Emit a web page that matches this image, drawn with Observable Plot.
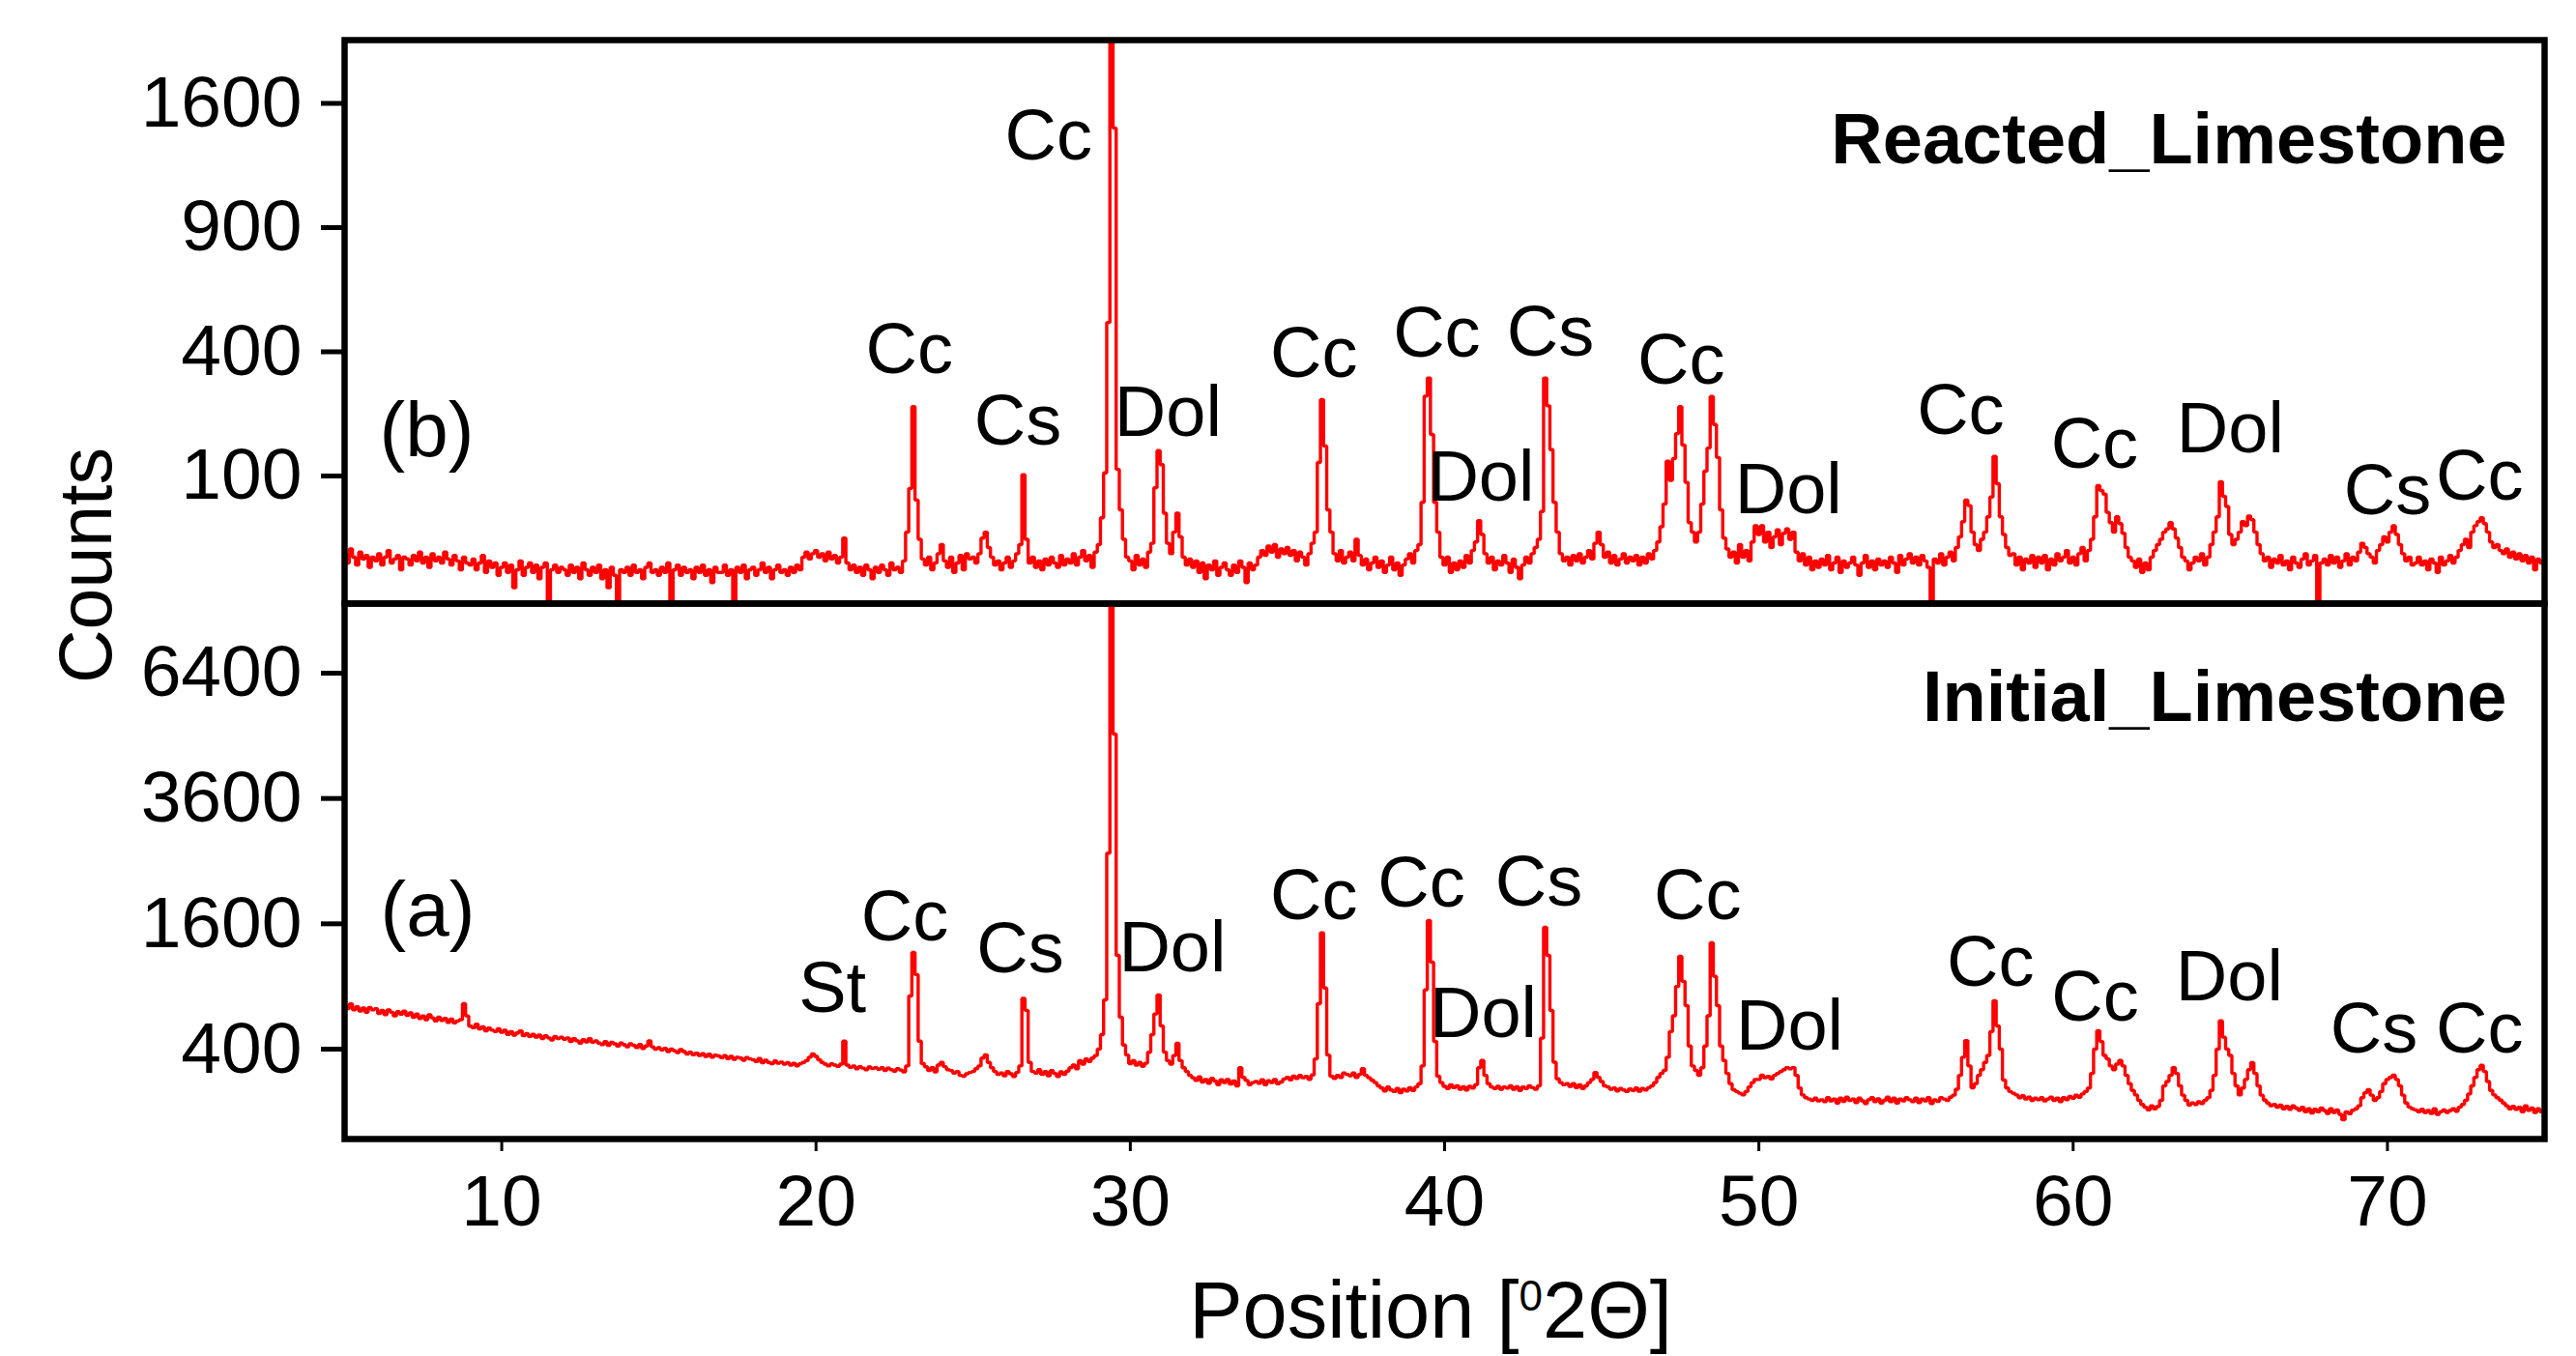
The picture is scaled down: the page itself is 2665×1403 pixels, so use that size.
<!DOCTYPE html>
<html>
<head>
<meta charset="utf-8">
<script src="https://cdn.jsdelivr.net/npm/d3@7"></script>
<script src="https://cdn.jsdelivr.net/npm/@observablehq/plot@0.6"></script>
<style>
  html, body { margin: 0; padding: 0; background: #ffffff; }
  #chart { position: relative; width: 2665px; height: 1403px; overflow: hidden; background: #ffffff; }
  #chart .panel { position: absolute; left: 0; }
  #chart svg { overflow: visible; }
  #chart g[aria-label="y-axis tick"] { stroke-width: 5px; }
  #chart g[aria-label="x-axis tick"] { stroke-width: 3px; }
  #chart g[aria-label="y-axis"] line { stroke-width: 5px; }
  #chart g[aria-label="x-axis"] line { stroke-width: 3px; }
</style>
</head>
<body>
<div id="chart">
  <div id="upper" class="panel" style="top:0px"></div>
  <div id="lower" class="panel" style="top:620px"></div>
  <svg id="titles" width="2665" height="1403" style="position:absolute;left:0;top:0;pointer-events:none" font-family="'Liberation Sans', Arial, sans-serif" fill="#000">
    <text transform="translate(115,585) rotate(-90)" text-anchor="middle" font-size="77">Counts</text>
    <text x="1480" y="1384" text-anchor="middle" font-size="83">Position [<tspan font-size="44" dy="-28">0</tspan><tspan dy="28">2Θ]</tspan></text>
  </svg>
</div>
<script>
// ---- measurement grid (degrees 2θ) ----
const twoThetaStart = 5;
const twoThetaStep = 0.1;

// ---- Reacted limestone counts, one row per degree (5.0 ... 5.9, 6.0 ... ) ----
const reactedCounts = [
  [14,9,17,12,8,15,11,13,7,12],
  [10,14,8,12,16,9,11,13,6,12],
  [11,8,13,10,15,9,12,7,14,10],
  [12,9,15,11,8,13,10,6,12,9],
  [8,11,6,9,13,5,10,7,9,4],
  [7,9,5,8,1,6,10,4,7,9],
  [5,8,3,7,9,0,6,8,5,7],
  [6,4,8,5,7,3,9,6,4,7],
  [5,8,3,6,1,7,4,0,6,5],
  [7,4,8,5,6,3,7,9,5,6],
  [4,7,5,9,0,6,8,4,7,5],
  [6,3,7,5,8,4,6,2,7,5],
  [5,8,4,6,0,7,5,8,3,6],
  [7,4,6,9,5,7,3,6,8,5],
  [6,4,7,5,8,6,12,15,11,14],
  [16,12,14,10,15,11,13,9,12,25],
  [9,6,8,5,7,4,8,6,3,7],
  [5,8,6,4,9,6,7,5,10,30],
  [81,243,65,24,11,8,12,6,9,14],
  [20,10,7,12,5,9,13,6,14,11],
  [12,9,14,25,30,18,12,8,10,6],
  [9,12,7,10,14,20,102,24,9,12],
  [7,10,6,11,8,12,9,7,13,8],
  [11,9,14,8,12,16,10,13,7,15],
  [20,44,105,500,3000,1445,111,53,24,12],
  [10,6,13,8,11,7,15,21,82,145],
  [119,49,21,14,30,49,26,12,8,11],
  [7,10,5,9,3,8,6,10,4,7],
  [9,6,4,8,5,10,7,2,9,6],
  [8,12,16,13,19,15,20,12,17,14],
  [18,13,16,10,15,12,8,14,21,30],
  [123,261,154,53,30,14,10,16,9,12],
  [15,10,24,13,8,11,6,9,12,7],
  [10,5,8,12,6,9,4,8,11,14],
  [9,16,20,62,270,320,178,62,30,12],
  [8,12,5,9,6,10,7,13,9,16],
  [22,41,28,14,9,12,6,10,8,13],
  [9,5,11,7,3,8,12,9,14,18],
  [24,51,320,245,147,62,30,14,10,12],
  [8,13,10,14,9,12,16,11,21,30],
  [20,12,15,9,13,8,11,14,9,12],
  [10,13,8,12,9,14,11,16,22,35],
  [60,125,93,130,180,243,156,90,39,30],
  [22,30,60,108,150,269,200,132,53,25],
  [17,12,15,9,20,12,16,10,22,36],
  [28,36,22,30,18,26,32,20,29,33],
  [24,30,15,10,14,8,12,6,10,7],
  [11,8,13,6,9,12,5,10,7,9],
  [12,8,4,9,13,7,10,6,11,8],
  [10,7,12,9,5,13,8,11,14,9],
  [12,8,13,10,7,0,11,9,14,8],
  [12,15,10,18,26,40,65,58,30,20],
  [16,24,30,45,69,134,88,45,28,18],
  [13,14,8,12,6,11,9,13,7,12],
  [9,13,6,11,8,14,10,12,16,9],
  [12,8,14,18,10,16,24,45,85,78],
  [73,50,39,30,45,38,29,18,12,10],
  [7,11,5,9,6,12,16,20,24,30],
  [33,39,33,25,18,12,10,6,9,12],
  [10,14,8,12,20,30,45,91,70,57],
  [28,20,24,30,40,36,46,42,30,20],
  [14,10,12,7,11,9,13,8,10,6],
  [12,9,7,11,14,8,10,13,0,9],
  [11,8,13,9,12,7,10,14,8,12],
  [10,15,21,18,14,12,9,16,20,26],
  [22,30,36,28,20,14,10,12,8,9],
  [12,8,10,6,11,9,5,12,8,10],
  [13,9,12,16,20,24,18,30,36,40],
  [44,38,30,22,18,20,16,14,17,12],
  [15,11,14,10,13,9,12,6,11,9],
  [10]
];

// ---- Initial limestone counts, one row per degree ----
const initialCounts = [
  [725,700,740,690,715,680,705,670,710,690],
  [700,660,685,650,690,670,640,675,655,680],
  [645,665,630,655,620,640,610,650,625,600],
  [630,605,620,590,615,585,600,610,743,640],
  [560,548,575,540,555,525,545,530,520,540],
  [515,530,500,520,495,510,525,490,505,485],
  [500,480,495,470,490,475,460,485,470,480],
  [465,475,450,470,455,440,462,448,470,445],
  [455,440,430,450,425,445,435,420,440,428],
  [415,435,425,410,430,405,420,455,415,400],
  [410,395,405,385,400,390,378,398,385,370],
  [380,365,375,360,372,355,368,350,362,358],
  [348,360,342,355,338,350,345,332,348,340],
  [335,325,342,318,332,320,312,328,315,322],
  [310,318,305,315,300,312,320,330,350,370],
  [355,335,320,310,300,312,305,298,310,453],
  [305,292,300,285,296,288,280,294,286,290],
  [282,290,276,288,280,272,285,278,268,300],
  [812,1255,1017,453,313,295,275,290,268,305],
  [320,296,280,275,262,270,250,246,258,265],
  [270,285,300,345,364,320,290,270,255,262],
  [248,270,258,245,265,300,790,686,320,270],
  [262,280,255,270,248,275,260,245,268,255],
  [272,290,305,285,330,310,340,325,345,360],
  [400,498,777,2630,9500,4940,1223,630,427,363],
  [313,330,305,320,298,315,380,498,656,820],
  [562,381,330,310,360,438,330,290,270,250],
  [238,225,242,218,230,212,235,222,205,228],
  [215,230,208,222,200,290,240,225,205,215],
  [220,212,228,205,224,215,230,210,218,232],
  [240,228,246,235,250,238,245,230,252,340],
  [743,1488,885,363,246,235,250,240,262,255],
  [248,262,240,255,285,250,238,226,215,200],
  [190,178,195,182,175,188,170,185,178,192],
  [180,195,210,300,868,1642,1148,451,246,215],
  [198,188,205,192,200,185,196,182,198,190],
  [205,290,331,250,210,195,188,198,185,195],
  [190,200,185,196,180,195,188,200,192,185],
  [200,473,1555,1222,685,321,233,215,205,210],
  [198,210,192,205,188,200,215,230,265,240],
  [220,200,195,185,190,178,188,182,175,186],
  [180,190,176,188,182,192,200,215,240,260],
  [276,350,520,641,900,1212,950,726,420,300],
  [276,251,290,420,641,1367,1000,726,420,331],
  [260,210,183,175,168,161,175,195,215,230],
  [230,251,238,245,232,250,260,270,280,291],
  [285,291,250,190,161,150,145,140,148,138],
  [142,135,150,138,145,130,148,136,152,140],
  [145,132,148,138,128,142,150,135,146,130],
  [140,152,135,148,130,145,138,150,142,135],
  [148,132,145,138,150,128,142,136,150,145],
  [140,152,160,185,250,350,457,300,191,210],
  [250,280,320,361,520,768,562,400,227,190],
  [175,168,161,150,158,145,152,140,148,142],
  [150,138,145,152,140,148,135,150,142,155],
  [148,160,152,165,175,190,260,400,526,450],
  [361,340,300,280,310,331,300,250,210,180],
  [161,140,125,115,106,120,110,118,140,200],
  [220,250,291,260,200,160,140,123,130,125],
  [135,128,140,150,180,250,400,601,480,400],
  [361,260,200,161,190,230,280,318,260,200],
  [160,141,130,120,125,115,122,110,118,108],
  [120,112,105,115,100,110,96,108,100,112],
  [104,95,110,98,106,92,76,100,94,105],
  [110,120,150,170,183,160,140,150,175,210],
  [230,240,251,230,200,160,130,116,110,106],
  [100,108,98,104,95,110,92,100,106,98],
  [104,110,102,115,125,140,165,200,240,280],
  [303,270,220,180,161,150,141,130,120,110],
  [118,108,115,100,120,105,112,98,110,100],
  [105]
];

// ---- axis ticks ----
const xTicks = [10, 20, 30, 40, 50, 60, 70];
const reactedYTicks = [100, 400, 900, 1600];
const initialYTicks = [400, 1600, 3600, 6400];

// ---- peak labels (phase, position 2θ, counts) ----
const reactedLabelText = ["Cc","Cs","Cc","Dol","Cc","Cc","Dol","Cs","Cc","Dol","Cc","Cc","Dol","Cs","Cc"];
const reactedLabelX    = [22.97,26.42,27.4,31.2,35.84,39.75,41.15,43.37,47.53,50.94,56.42,60.68,65.0,70.0,72.93];
const reactedLabelY    = [405,206,1396,228,393,460,97,464,372,78,231,157,188,77,98];

const initialLabelText = ["St","Cc","Cs","Dol","Cc","Cc","Dol","Cs","Cc","Dol","Cc","Cc","Dol","Cs","Cc"];
const initialLabelX    = [20.52,22.82,26.5,31.34,35.84,39.26,41.23,43.0,48.05,50.98,57.37,60.7,64.97,69.57,72.93];
const initialLabelY    = [872,1686,1293,1302,1972,2154,656,2169,1975,553,1140,796,989,535,535];

const panelTitles = ["Reacted_Limestone", "Initial_Limestone"];
const panelTags = ["(b)", "(a)"];

// ---- build tables ----
function toSeries(rows) {
  return rows.flatMap((row, r) => row.map((c, j) => ({x: twoThetaStart + r + j * twoThetaStep, y: c})));
}
const reactedData = toSeries(reactedCounts);
const initialData = toSeries(initialCounts);

const FONT = "'Liberation Sans', Arial, Helvetica, sans-serif";
const RED = "#ff0000";
const W = 2665, ML = 356, MR = 33;

const upper = Plot.plot({
  width: W, height: 628,
  marginLeft: ML, marginRight: MR, marginTop: 41, marginBottom: 4,
  style: {fontFamily: FONT, fontSize: "75px", background: "transparent", color: "#000", overflow: "visible"},
  x: {domain: [5, 75], axis: null},
  y: {type: "sqrt", domain: [0, 2030], range: [620.5, 41.5], ticks: reactedYTicks, tickFormat: d => String(d),
      tickSize: 24, tickPadding: 20, label: null},
  marks: [
    Plot.line(reactedData, {x: "x", y: "y", stroke: RED, strokeWidth: 3.4, strokeLinejoin: "miter", curve: "step", clip: true}),
    Plot.frame({stroke: "#000", strokeWidth: 6.5}),
    Plot.text(reactedLabelText, {x: reactedLabelX, y: reactedLabelY, text: d => d, fontSize: 74, fill: "#000", lineAnchor: "middle"}),
    Plot.text([panelTitles[0]], {frameAnchor: "top-right", dx: -39, dy: 104, text: d => d, textAnchor: "end", lineAnchor: "middle", fontSize: 74, fontWeight: "bold", fill: "#000"}),
    Plot.text([panelTags[0]], {frameAnchor: "top-left", dx: 36, dy: 405, text: d => d, textAnchor: "start", lineAnchor: "middle", fontSize: 80, fill: "#000"})
  ]
});

const lower = Plot.plot({
  width: W, height: 783,
  marginLeft: ML, marginRight: MR, marginTop: 4, marginBottom: 225,
  style: {fontFamily: FONT, fontSize: "75px", background: "transparent", color: "#000", overflow: "visible"},
  x: {domain: [5, 75], ticks: xTicks, tickFormat: d => String(d), tickSize: 13, tickPadding: 23, label: null},
  y: {type: "sqrt", domain: [32, 8300], ticks: initialYTicks, tickFormat: d => String(d),
      tickSize: 24, tickPadding: 20, label: null},
  marks: [
    Plot.line(initialData, {x: "x", y: "y", stroke: RED, strokeWidth: 3.4, strokeLinejoin: "miter", curve: "step", clip: true}),
    Plot.frame({stroke: "#000", strokeWidth: 6.5}),
    Plot.text(initialLabelText, {x: initialLabelX, y: initialLabelY, text: d => d, fontSize: 74, fill: "#000", lineAnchor: "middle"}),
    Plot.text([panelTitles[1]], {frameAnchor: "top-right", dx: -39, dy: 98, text: d => d, textAnchor: "end", lineAnchor: "middle", fontSize: 74, fontWeight: "bold", fill: "#000"}),
    Plot.text([panelTags[1]], {frameAnchor: "top-left", dx: 37, dy: 318, text: d => d, textAnchor: "start", lineAnchor: "middle", fontSize: 80, fill: "#000"})
  ]
});

document.getElementById("upper").appendChild(upper);
document.getElementById("lower").appendChild(lower);
</script>
</body>
</html>
